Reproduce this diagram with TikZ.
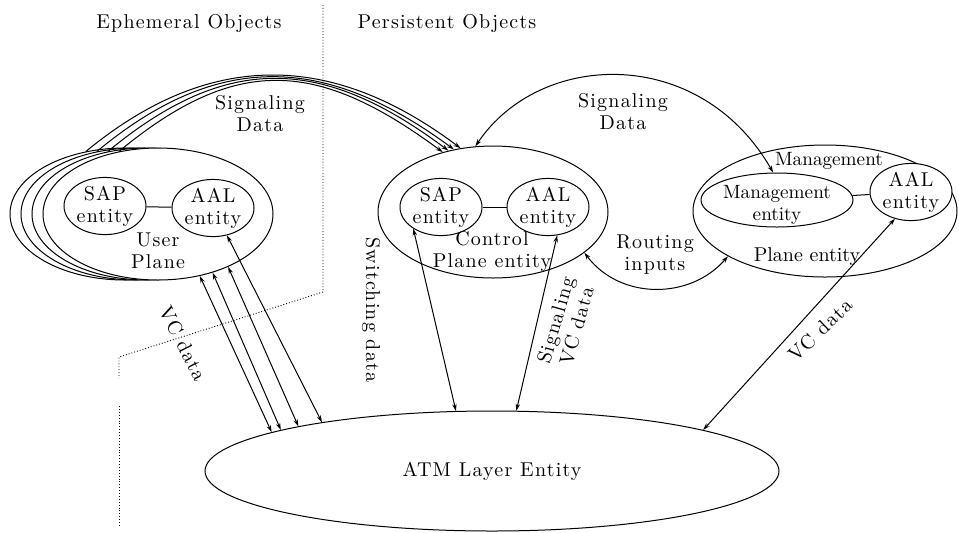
\documentclass[tikz,border=0pt]{standalone}
\usepackage{fontspec}
\setmainfont{Latin Modern Roman}[LetterSpace=6]
\usetikzlibrary{shapes.geometric,arrows.meta}
\begin{document}
\begin{tikzpicture}[x=0.5pt,y=-0.5pt,
  every node/.style={font=\fontsize{10}{11}\selectfont, align=center},
  ell/.style={ellipse,draw,fill=white,inner sep=0pt,line width=0.5pt},
  bigell/.style={ell,minimum width=115pt,minimum height=66pt},
  smallell/.style={ell,minimum width=41pt,minimum height=28pt},
  lbl/.style={inner sep=0pt},
  tight/.style={font=\fontsize{9.6}{11}\selectfont\addfontfeatures{LetterSpace=0}},
  link/.style={line width=0.5pt},
  arr/.style={line width=0.5pt,<->,>={Stealth[length=3.5pt,width=2.2pt]}},
  sarr/.style={line width=0.5pt,->,>={Stealth[length=3.5pt,width=2.2pt]}},
  divider/.style={densely dotted,line width=0.45pt}
]
\useasboundingbox (0,0) rectangle (959,532);

% divider
\draw[divider] (323,5) -- (323,292) -- (119,357) -- (119,378);
\draw[divider] (119,406) -- (119,527);

% headings
\node[lbl] (eph) at (189,23) {Ephemeral Objects};
\node[lbl] (per) at (447,23) {Persistent Objects};

% user plane stack
\node[bigell] (up3) at (125,214) {};
\node[bigell] (up2) at (136,214) {};
\node[bigell] (up1) at (147,214) {};
\node[bigell] (up0) at (158,214) {};
\node[smallell] (usap) at (105,206) {SAP\\entity};
\node[smallell] (uaal) at (213,208) {AAL\\entity};
\node[lbl] (uplbl) at (158,251) {User\\Plane};
\draw[link] (usap) -- (uaal);

% control plane
\node[bigell] (cp) at (493,212) {};
\node[smallell] (csap) at (441,207) {SAP\\entity};
\node[smallell] (caal) at (548,207) {AAL\\entity};
\node[lbl] (cplbl) at (492,251) {Control\\Plane entity};
\draw[link] (csap) -- (caal);

% management plane
\node[ell,minimum width=132pt,minimum height=66pt] (mp) at (825,211) {};
\node[ell,minimum width=76pt,minimum height=27pt] (ment) at (777,200) {};
\node[lbl,tight] (mentlbl) at (777,205) {Management\\entity};
\node[smallell] (maal) at (911,192) {AAL\\entity};
\node[lbl,tight] (mplbl1) at (829,161) {Management};
\node[lbl,font=\fontsize{10}{11}\selectfont\addfontfeatures{LetterSpace=0}] (mplbl2) at (807,257) {Plane entity};
\draw[link] (ment) -- (maal);

% ATM layer
\node[ell,minimum width=287pt,minimum height=60pt] (atm) at (492,471) {ATM Layer Entity};

% signaling data arcs (user plane -> control plane)
\draw[sarr] (up3.122) .. controls (209,50) and (331,51) .. (cp.117.6);
\draw[sarr] (up2.122) .. controls (219,50) and (326,55) .. (cp.122.8);
\draw[sarr] (up1.122) .. controls (228,52) and (323,57) .. (cp.126.4);
\draw[sarr] (up0.122) .. controls (238,53) and (319,61) .. (cp.130.8);
\node[lbl] (sd1) at (260,114) {Signaling\\Data};

% signaling data control <-> management
\draw[arr] (cp.105) .. controls (540,50) and (700,45) .. (ment.98);
\node[lbl] (sd2) at (623,112) {Signaling\\Data};

% routing inputs
\draw[arr] (cp.-24) .. controls (620,300) and (690,300) .. (mp.-155);
\node[lbl] (rt) at (655,255) {Routing\\inputs};

% VC data from user plane
\draw[arr] (up0.-56.7) -- (atm.170.7);
\draw[arr] (up0.-47) -- (atm.169.5);
\draw[arr] (up0.-37.6) -- (atm.167.7);
\draw[arr] (uaal.-63.4) -- (atm.164.4);
\node[lbl,rotate=-63] (vc1) at (183,343) {VC data};

% control plane to ATM
\draw[arr] (csap.-142) -- (atm.121);
\draw[arr] (caal.-72) -- (atm.68.5);
\node[lbl,rotate=-90] (sw) at (371,310) {Switching data};
\node[lbl,rotate=74] (svc) at (566,323) {Signaling\\VC data};

% management to ATM
\draw[arr] (maal.-121) -- (atm.11.4);
\node[lbl,rotate=44] (vc2) at (820,330) {VC data};
\end{tikzpicture}
\end{document}
